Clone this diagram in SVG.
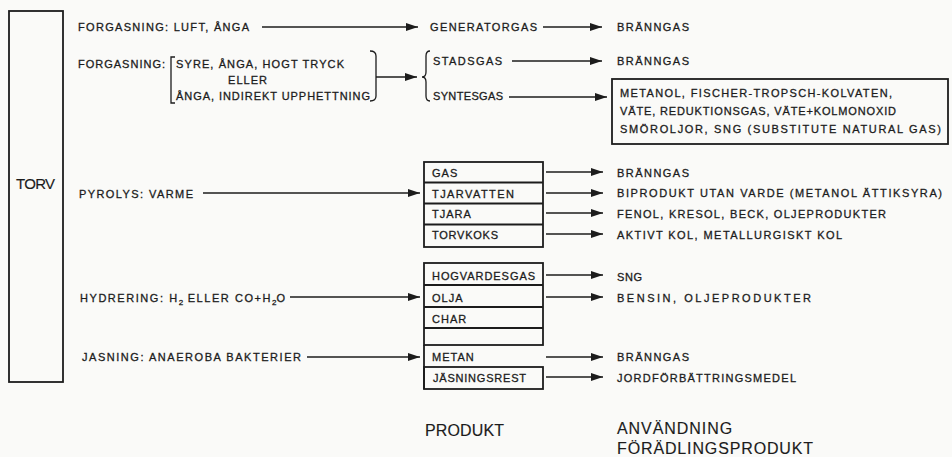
<svg xmlns="http://www.w3.org/2000/svg" width="952" height="457" viewBox="0 0 952 457">
<style>
text{font-family:"Liberation Sans",Arial,sans-serif;font-size:11px;letter-spacing:1px;fill:#1c1c1c;stroke:#1c1c1c;stroke-width:0.3}
.big{font-size:16px;letter-spacing:0.9px;stroke-width:0.15}
.torv{font-size:15px;letter-spacing:0;stroke-width:0.15}
.sub{font-size:8px;letter-spacing:0}
.box{fill:none;stroke:#1c1c1c;stroke-width:1.8}
.c{fill:none;stroke:#1c1c1c;stroke-width:1.5}
.br{fill:none;stroke:#1c1c1c;stroke-width:1.3}
</style>
<defs>
<marker id="ah" markerUnits="userSpaceOnUse" markerWidth="13" markerHeight="8" refX="12" refY="4" orient="auto">
<path d="M0,0 L12,4 L0,8 Z" fill="#1c1c1c"/>
</marker>
</defs>
<rect x="0" y="0" width="952" height="457" fill="#fafaf8"/>

<g id="torv">
<rect class="box" x="9" y="11" width="54" height="371" stroke-width="2"/>
<text class="torv" x="16" y="189" textLength="39">TORV</text>
</g>

<g id="forgasning1">
<text x="78" y="31" textLength="172">FORGASNING: LUFT, ÅNGA</text>
</g>
<g id="generatorgas"><text x="430" y="31" textLength="108">GENERATORGAS</text></g>
<g id="branngas1"><text x="617" y="31" textLength="73">BRÄNNGAS</text></g>

<g id="forgasning2">
<text x="78" y="68" textLength="88">FORGASNING:</text>
<path class="br" d="M175,57 L171,57 L171,103 L175,103"/>
<text x="176" y="68" textLength="169">SYRE, ÅNGA, HOGT TRYCK</text>
<text x="248" y="84" text-anchor="middle">ELLER</text>
<text x="176" y="100" textLength="195">ÅNGA, INDIREKT UPPHETTNING</text>
<path class="br" d="M370,51 Q376,51 376,56 L376,96 Q376,101 370,101"/>
</g>

<g id="gasbrace">
<path class="br" d="M430,51 Q426,51 426,56 L426,72 Q426,77 422,77 Q426,77 426,82 L426,96 Q426,101 430,101"/>
<text x="433" y="65" textLength="70">STADSGAS</text>
<text x="433" y="100" textLength="71">SYNTESGAS</text>
</g>
<g id="branngas2"><text x="617" y="65" textLength="73">BRÄNNGAS</text></g>

<g id="syntes-use">
<rect class="box" x="612" y="79" width="336" height="65"/>
<text x="620" y="97" textLength="273">METANOL, FISCHER-TROPSCH-KOLVATEN,</text>
<text x="620" y="115" textLength="277">VÄTE, REDUKTIONSGAS, VÄTE+KOLMONOXID</text>
<text x="620" y="133" textLength="322">SMÖROLJOR, SNG (SUBSTITUTE NATURAL GAS)</text>
</g>

<g id="pyrolys"><text x="79" y="198" textLength="115">PYROLYS: VARME</text></g>
<g id="pyrolys-products">
<rect class="box" x="424" y="162" width="119" height="85"/>
<path class="box" d="M424,182.5 H543 M424,203.5 H543 M424,224.5 H543"/>
<text x="432" y="177">GAS</text>
<text x="432" y="198" textLength="83">TJARVATTEN</text>
<text x="432" y="218">TJARA</text>
<text x="432" y="239" textLength="67">TORVKOKS</text>
</g>
<g id="pyrolys-uses">
<text x="617" y="177" textLength="73">BRÄNNGAS</text>
<text x="617" y="197" textLength="326">BIPRODUKT UTAN VARDE (METANOL ÄTTIKSYRA)</text>
<text x="617" y="218" textLength="270">FENOL, KRESOL, BECK, OLJEPRODUKTER</text>
<text x="617" y="239" textLength="226">AKTIVT KOL, METALLURGISKT KOL</text>
</g>

<g id="hydrering"><text x="80" y="302" style="letter-spacing:1.55px">HYDRERING: H<tspan class="sub" dy="3">2</tspan><tspan dy="-3"> ELLER CO+H</tspan><tspan class="sub" dy="3">2</tspan><tspan dy="-3">O</tspan></text></g>
<g id="hydrering-products">
<rect class="box" x="424" y="263" width="119" height="82"/>
<path class="box" d="M424,285 H543 M424,307 H543 M424,328 H543"/>
<text x="432" y="280" textLength="104">HOGVARDESGAS</text>
<text x="432" y="302">OLJA</text>
<text x="432" y="323">CHAR</text>
</g>
<g id="hydrering-uses">
<text x="617" y="281" textLength="26">SNG</text>
<text x="617" y="302" textLength="195">BENSIN, OLJEPRODUKTER</text>
</g>

<g id="jasning"><text x="82" y="361" textLength="220">JASNING: ANAEROBA BAKTERIER</text></g>
<g id="jasning-products">
<path class="box" d="M424,345 V389"/>
<rect class="box" x="424" y="367" width="119" height="22"/>
<text x="432" y="361">METAN</text>
<text x="433" y="382" textLength="94">JÄSNINGSREST</text>
</g>
<g id="jasning-uses">
<text x="617" y="361" textLength="73">BRÄNNGAS</text>
<text x="617" y="382" textLength="180">JORDFÖRBÄTTRINGSMEDEL</text>
</g>

<g id="headers">
<text class="big" x="425" y="436" textLength="80">PRODUKT</text>
<text class="big" x="617" y="434" textLength="116">ANVÄNDNING</text>
<text class="big" x="617" y="454" textLength="197">FÖRÄDLINGSPRODUKT</text>
</g>

<g id="connectors">
<path class="c" marker-end="url(#ah)" d="M262,27 H418"/>
<path class="c" marker-end="url(#ah)" d="M543,27 H602"/>
<path class="c" marker-end="url(#ah)" d="M376,77 H417"/>
<path class="c" marker-end="url(#ah)" d="M512,61 H602"/>
<path class="c" marker-end="url(#ah)" d="M509,97 H607"/>
<path class="c" marker-end="url(#ah)" d="M203,193 H420"/>
<path class="c" marker-end="url(#ah)" d="M546,172 H603"/>
<path class="c" marker-end="url(#ah)" d="M546,193 H603"/>
<path class="c" marker-end="url(#ah)" d="M546,213 H603"/>
<path class="c" marker-end="url(#ah)" d="M546,234 H603"/>
<path class="c" marker-end="url(#ah)" d="M290,297 H420"/>
<path class="c" marker-end="url(#ah)" d="M546,275 H603"/>
<path class="c" marker-end="url(#ah)" d="M546,297 H603"/>
<path class="c" marker-end="url(#ah)" d="M307,357 H420"/>
<path class="c" marker-end="url(#ah)" d="M546,357 H603"/>
<path class="c" marker-end="url(#ah)" d="M546,377 H603"/>
</g>
</svg>
